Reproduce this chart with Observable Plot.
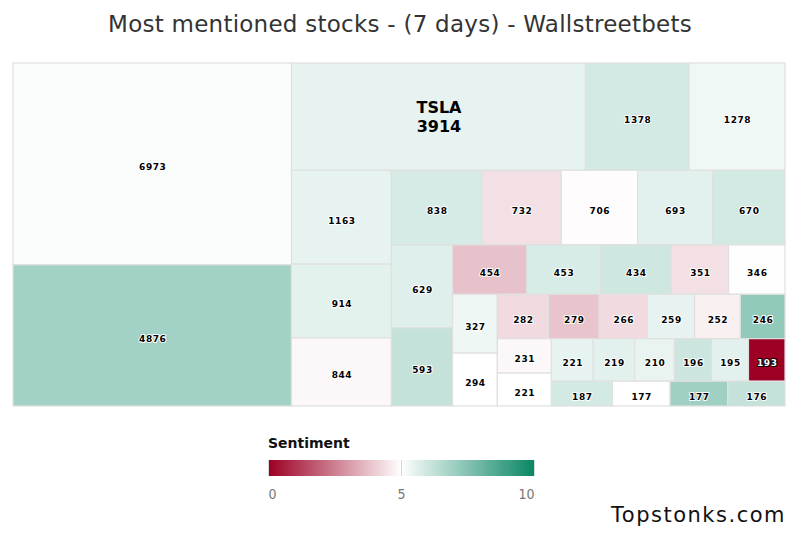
<!DOCTYPE html>
<html><head><meta charset="utf-8">
<script src="https://cdn.jsdelivr.net/npm/d3@7"></script>
<script src="https://cdn.jsdelivr.net/npm/@observablehq/plot@0.6"></script>
<style>
body{margin:0;background:#fff;}
#wrap{position:relative;width:800px;height:533px;overflow:hidden;background:#fff;}
#title{position:absolute;top:13px;left:0;width:800px;text-align:center;font:23px/1 "DejaVu Sans",sans-serif;letter-spacing:0.25px;color:#333;white-space:nowrap;}
#chart{position:absolute;left:0;top:0;}
#legendTitle{position:absolute;left:268px;top:436px;font:bold 14px/1 "DejaVu Sans",sans-serif;color:#111;}
#legend{position:absolute;left:258px;top:456px;}
#caption{position:absolute;right:14px;top:505px;font:21px/1 "DejaVu Sans",sans-serif;letter-spacing:1.5px;color:#111;}
</style></head><body>
<div id="wrap">
  <div id="title">Most mentioned stocks - (7 days) - Wallstreetbets</div>
  <div id="chart"></div>
  <div id="legendTitle">Sentiment</div>
  <div id="legend"></div>
  <div id="caption">Topstonks.com</div>
</div>
<script>
// ---- data ----
const tickers = ["", "", "TSLA", "", "", "", "", "", "", "", "", "", "", "", "", "", "", "", "", "", "", "", "", "", "", "", "", "", "", "", "", "", "", "", "", "", "", "", "", ""];
const mentions = [6973, 4876, 3914, 1378, 1278, 1163, 914, 844, 838, 732, 706, 693, 670, 629, 593, 454, 453, 434, 351, 346, 327, 294, 282, 279, 266, 259, 252, 246, 231, 221, 221, 219, 210, 196, 195, 193, 187, 177, 177, 176];
const sentiment = [5.1, 6.9, 5.5, 5.9, 5.3, 5.5, 5.55, 4.85, 5.85, 4.4, 4.95, 5.6, 5.9, 5.65, 6.2, 3.8, 5.8, 6.0, 4.4, 5.05, 5.35, 5.0, 4.3, 3.85, 4.3, 5.5, 4.7, 7.25, 4.85, 5.0, 5.5, 5.6, 5.45, 6.05, 5.6, 0.0, 5.9, 5.0, 6.95, 6.2];
const colorTicks = [0, 5, 10];
const colorStops = ["#9c0024", "#ffffff", "#0b8766"];

// ---- chart geometry ----
const W = 800, H = 420, mL = 13, mR = 15, mT = 63, mB = 14;
const PW = W - mL - mR, PH = H - mT - mB;

// squarified tiling that alternates row / column orientation
function tileAlternating(parent, x0, y0, x1, y1) {
  const nodes = parent.children;
  const k = (x1 - x0) * (y1 - y0) / parent.value;
  let gx = x0, gy = y0, gw = x1 - x0, gh = y1 - y0, dir = 0;
  let group = [], total = 0;
  const aspect = (w, h) => Math.max(w / h, h / w);
  const place = () => {
    if (dir === 0) {
      const w = total / gh; let y = gy;
      for (const n of group) { const h = n.value * k / w; n.x0 = gx; n.x1 = gx + w; n.y0 = y; n.y1 = y + h; y += h; }
      gx += w; gw -= w;
    } else {
      const h = total / gw; let x = gx;
      for (const n of group) { const w = n.value * k / h; n.x0 = x; n.x1 = x + w; n.y0 = gy; n.y1 = gy + h; x += w; }
      gy += h; gh -= h;
    }
    dir = 1 - dir; group = []; total = 0;
  };
  for (const n of nodes) {
    const a = n.value * k;
    if (group.length) {
      const last = group[group.length - 1].value * k;
      const side = dir === 0 ? gh : gw;
      const oldT = total / side, newT = (total + a) / side;
      if (aspect(newT, last / newT) > aspect(oldT, last / oldT)) place();
    }
    group.push(n); total += a;
  }
  if (group.length) place();
}

const root = d3.hierarchy({children: mentions.map((v, i) => ({i, v}))})
  .sum(d => d.v ?? 0).sort((a, b) => b.value - a.value);
d3.treemap().tile(tileAlternating).size([PW, PH]).round(false)(root);

const cells = root.leaves().map(l => ({
  x0: l.x0, x1: l.x1, y0: l.y0, y1: l.y1,
  mentions: l.data.v, ticker: tickers[l.data.i], sentiment: sentiment[l.data.i]
}));
const colorScale = {type: "linear", domain: [0, 5, 10], range: colorStops, interpolate: "rgb"};

const chart = Plot.plot({
  width: W, height: H,
  marginLeft: mL, marginRight: mR, marginTop: mT, marginBottom: mB,
  x: {domain: [0, PW], axis: null},
  y: {domain: [0, PH], axis: null, reverse: true},
  color: colorScale,
  style: {background: "transparent"},
  marks: [
    Plot.rect(cells, {x1: "x0", x2: "x1", y1: "y0", y2: "y1", fill: "sentiment", stroke: "#e0e0e0", strokeWidth: 1.2}),
    Plot.text(cells.filter(d => !d.ticker), {
      x: d => (d.x0 + d.x1) / 2, y: d => (d.y0 + d.y1) / 2, dy: 3,
      text: d => String(d.mentions),
      fill: d => d.sentiment < 1.5 ? "white" : "black",
      stroke: d => d.sentiment < 1.5 ? "black" : "white", strokeWidth: 2, paintOrder: "stroke",
      fontSize: 9, fontWeight: "bold", fontFamily: "DejaVu Sans"
    }),
    Plot.text(cells.filter(d => d.ticker), {
      x: d => (d.x0 + d.x1) / 2, y: d => (d.y0 + d.y1) / 2, dy: -1,
      text: d => d.ticker + "\n" + d.mentions, lineHeight: 1.2,
      fill: "black", fontSize: 16, fontWeight: "bold", fontFamily: "DejaVu Sans"
    })
  ]
});
document.getElementById("chart").append(chart);
const textGroups = chart.querySelectorAll("g[aria-label='text']");
if (textGroups[0]) textGroups[0].style.letterSpacing = "0.6px";

const legend = Plot.legend({
  color: colorScale, label: null,
  width: 286, height: 50, marginLeft: 10, marginRight: 10, marginTop: 4, marginBottom: 30,
  ticks: colorTicks, tickSize: 0,
  style: {fontSize: "14px", fontFamily: "'DejaVu Sans Condensed','DejaVu Sans',sans-serif", color: "#777", background: "transparent"}
});
document.getElementById("legend").append(legend);
d3.select(legend).selectAll(".tick line").attr("stroke", "#d8d8d8");
d3.select(legend).selectAll(".tick text").attr("y", 13).attr("fill", "#777")
  .attr("text-anchor", (d, i, n) => i === 0 ? "start" : i === n.length - 1 ? "end" : "middle");
</script>
</body></html>
